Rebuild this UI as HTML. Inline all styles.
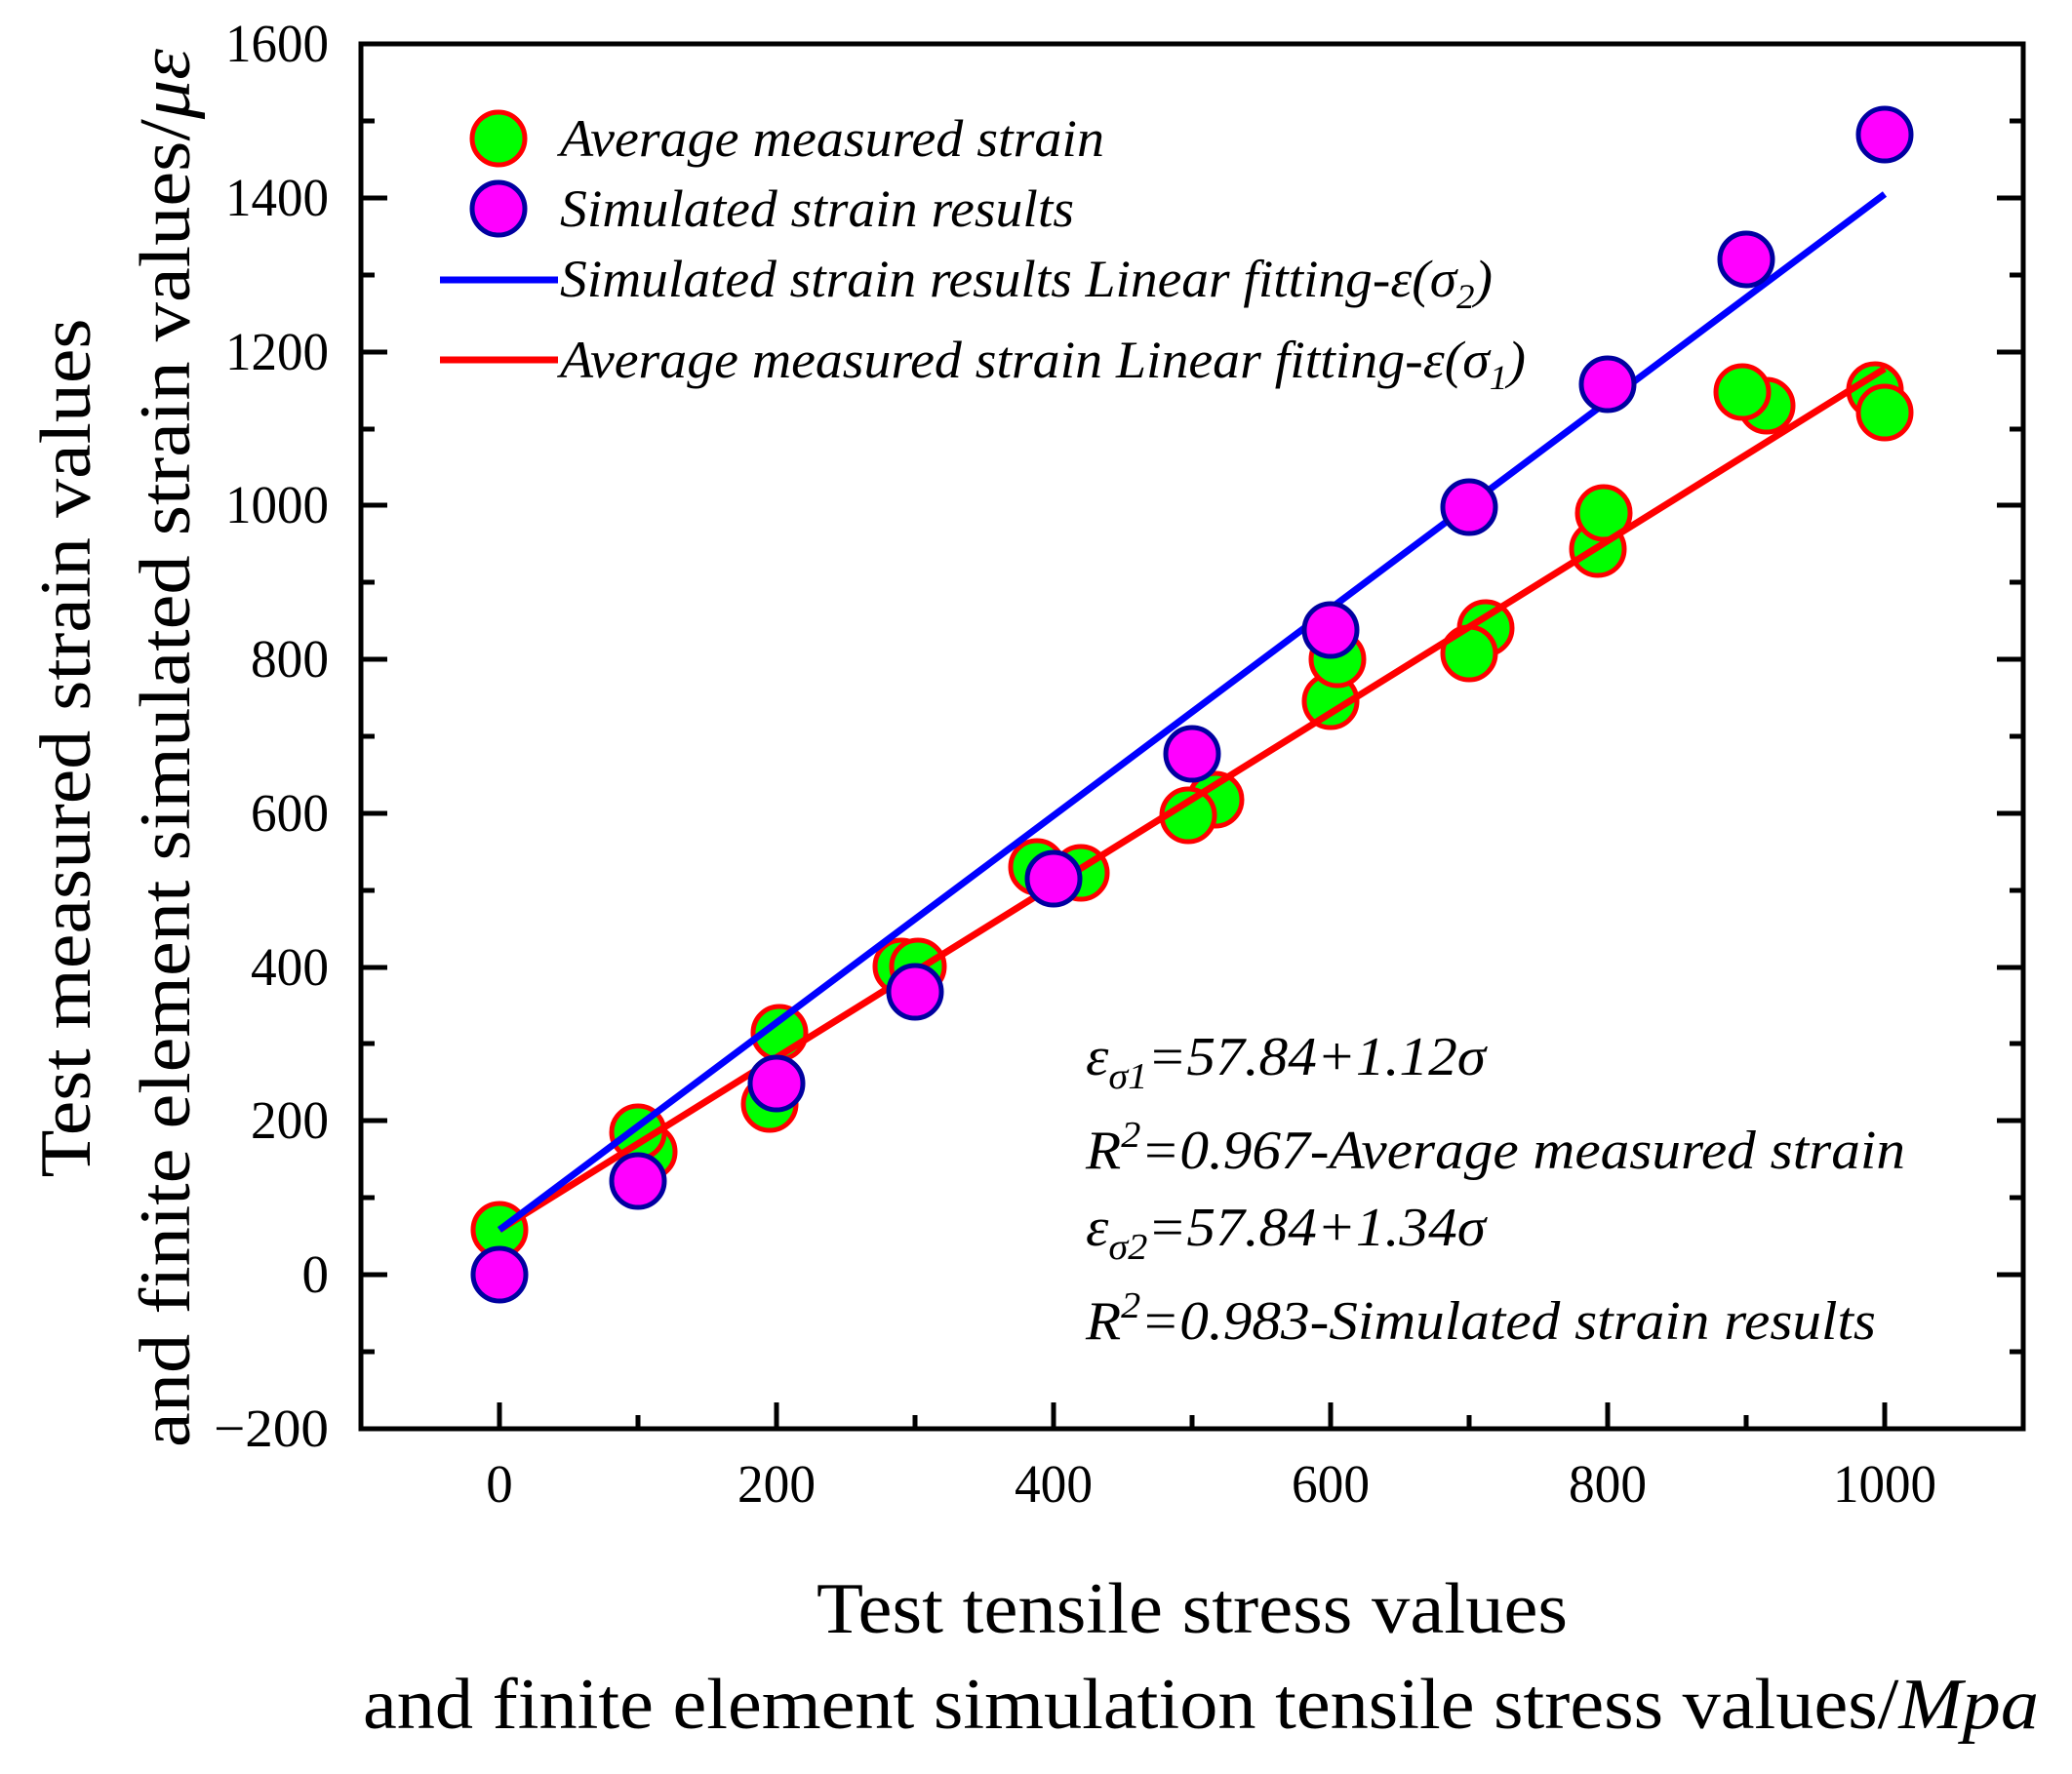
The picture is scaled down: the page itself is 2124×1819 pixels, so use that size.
<!DOCTYPE html>
<html><head><meta charset="utf-8"><style>html,body{margin:0;padding:0;background:#fff;overflow:hidden;width:2124px;height:1819px}svg{display:block}</style></head>
<body>
<svg width="2124" height="1819" viewBox="0 0 2124 1819" xmlns="http://www.w3.org/2000/svg" font-family="'Liberation Serif', 'Times New Roman', serif">
<rect width="2124" height="1819" fill="#fff"/>
<g stroke="#000" stroke-width="5">
<line x1="370" y1="124" x2="384" y2="124"/>
<line x1="370" y1="203" x2="397" y2="203"/>
<line x1="370" y1="282" x2="384" y2="282"/>
<line x1="370" y1="361" x2="397" y2="361"/>
<line x1="370" y1="440" x2="384" y2="440"/>
<line x1="370" y1="518" x2="397" y2="518"/>
<line x1="370" y1="597" x2="384" y2="597"/>
<line x1="370" y1="676" x2="397" y2="676"/>
<line x1="370" y1="755" x2="384" y2="755"/>
<line x1="370" y1="834" x2="397" y2="834"/>
<line x1="370" y1="913" x2="384" y2="913"/>
<line x1="370" y1="992" x2="397" y2="992"/>
<line x1="370" y1="1070" x2="384" y2="1070"/>
<line x1="370" y1="1149" x2="397" y2="1149"/>
<line x1="370" y1="1228" x2="384" y2="1228"/>
<line x1="370" y1="1307" x2="397" y2="1307"/>
<line x1="370" y1="1386" x2="384" y2="1386"/>
<line x1="2074" y1="124" x2="2060" y2="124"/>
<line x1="2074" y1="203" x2="2047" y2="203"/>
<line x1="2074" y1="282" x2="2060" y2="282"/>
<line x1="2074" y1="361" x2="2047" y2="361"/>
<line x1="2074" y1="440" x2="2060" y2="440"/>
<line x1="2074" y1="518" x2="2047" y2="518"/>
<line x1="2074" y1="597" x2="2060" y2="597"/>
<line x1="2074" y1="676" x2="2047" y2="676"/>
<line x1="2074" y1="755" x2="2060" y2="755"/>
<line x1="2074" y1="834" x2="2047" y2="834"/>
<line x1="2074" y1="913" x2="2060" y2="913"/>
<line x1="2074" y1="992" x2="2047" y2="992"/>
<line x1="2074" y1="1070" x2="2060" y2="1070"/>
<line x1="2074" y1="1149" x2="2047" y2="1149"/>
<line x1="2074" y1="1228" x2="2060" y2="1228"/>
<line x1="2074" y1="1307" x2="2047" y2="1307"/>
<line x1="2074" y1="1386" x2="2060" y2="1386"/>
<line x1="512" y1="1465" x2="512" y2="1438"/>
<line x1="654" y1="1465" x2="654" y2="1451"/>
<line x1="796" y1="1465" x2="796" y2="1438"/>
<line x1="938" y1="1465" x2="938" y2="1451"/>
<line x1="1080" y1="1465" x2="1080" y2="1438"/>
<line x1="1222" y1="1465" x2="1222" y2="1451"/>
<line x1="1364" y1="1465" x2="1364" y2="1438"/>
<line x1="1506" y1="1465" x2="1506" y2="1451"/>
<line x1="1648" y1="1465" x2="1648" y2="1438"/>
<line x1="1790" y1="1465" x2="1790" y2="1451"/>
<line x1="1932" y1="1465" x2="1932" y2="1438"/>
</g>
<rect x="370" y="45" width="1704" height="1420" fill="none" stroke="#000" stroke-width="5"/>
<g font-size="55" text-anchor="end" fill="#000">
<text x="337" y="63" textLength="106" lengthAdjust="spacingAndGlyphs">1600</text>
<text x="337" y="221" textLength="106" lengthAdjust="spacingAndGlyphs">1400</text>
<text x="337" y="379" textLength="106" lengthAdjust="spacingAndGlyphs">1200</text>
<text x="337" y="536" textLength="106" lengthAdjust="spacingAndGlyphs">1000</text>
<text x="337" y="694" textLength="80" lengthAdjust="spacingAndGlyphs">800</text>
<text x="337" y="852" textLength="80" lengthAdjust="spacingAndGlyphs">600</text>
<text x="337" y="1010" textLength="80" lengthAdjust="spacingAndGlyphs">400</text>
<text x="337" y="1167" textLength="80" lengthAdjust="spacingAndGlyphs">200</text>
<text x="337" y="1325">0</text>
<text x="337" y="1483" textLength="118" lengthAdjust="spacingAndGlyphs">−200</text>
</g>
<g font-size="55" text-anchor="middle" fill="#000">
<text x="512" y="1540">0</text>
<text x="796" y="1540" textLength="80" lengthAdjust="spacingAndGlyphs">200</text>
<text x="1080" y="1540" textLength="80" lengthAdjust="spacingAndGlyphs">400</text>
<text x="1364" y="1540" textLength="80" lengthAdjust="spacingAndGlyphs">600</text>
<text x="1648" y="1540" textLength="80" lengthAdjust="spacingAndGlyphs">800</text>
<text x="1932" y="1540" textLength="106" lengthAdjust="spacingAndGlyphs">1000</text>
</g>
<g font-size="74" fill="#000">
<text transform="translate(92,767) rotate(-90)" text-anchor="middle" textLength="881" lengthAdjust="spacingAndGlyphs">Test measured strain values</text>
<text transform="translate(194,767) rotate(-90)" text-anchor="middle" textLength="1434" lengthAdjust="spacingAndGlyphs">and finite element simulated strain values/<tspan font-style="italic">με</tspan></text>
<text x="1222" y="1674" text-anchor="middle" textLength="770" lengthAdjust="spacingAndGlyphs">Test tensile stress values</text>
<text x="372" y="1772" textLength="1718" lengthAdjust="spacingAndGlyphs">and finite element simulation tensile stress values/<tspan font-style="italic">Mpa</tspan></text>
</g>
<g fill="#00ff00" stroke="#ff0000" stroke-width="5">
<circle cx="512" cy="1261" r="27"/>
<circle cx="665" cy="1181" r="27"/>
<circle cx="654" cy="1161" r="27"/>
<circle cx="789" cy="1132" r="27"/>
<circle cx="799" cy="1059" r="27"/>
<circle cx="924" cy="991" r="27"/>
<circle cx="941" cy="991" r="27"/>
<circle cx="1063" cy="889" r="27"/>
<circle cx="1108" cy="895" r="27"/>
<circle cx="1246" cy="820" r="27"/>
<circle cx="1218" cy="836" r="27"/>
<circle cx="1364" cy="719" r="27"/>
<circle cx="1371" cy="676" r="27"/>
<circle cx="1523" cy="644" r="27"/>
<circle cx="1506" cy="670" r="27"/>
<circle cx="1638" cy="563" r="27"/>
<circle cx="1644" cy="526" r="27"/>
<circle cx="1811" cy="416" r="27"/>
<circle cx="1786" cy="402" r="27"/>
<circle cx="1922" cy="400" r="27"/>
<circle cx="1932" cy="423" r="27"/>
</g>
<line x1="512" y1="1261" x2="1932" y2="378" stroke="#ff0000" stroke-width="7"/>
<line x1="512" y1="1261" x2="1932" y2="199" stroke="#0000ff" stroke-width="7"/>
<g fill="#ff00ff" stroke="#0000a0" stroke-width="5">
<circle cx="512" cy="1307" r="27"/>
<circle cx="654" cy="1211" r="27"/>
<circle cx="796" cy="1111" r="27"/>
<circle cx="938" cy="1017" r="27"/>
<circle cx="1080" cy="901" r="27"/>
<circle cx="1222" cy="773" r="27"/>
<circle cx="1364" cy="646" r="27"/>
<circle cx="1506" cy="520" r="27"/>
<circle cx="1648" cy="394" r="27"/>
<circle cx="1790" cy="266" r="27"/>
<circle cx="1932" cy="138" r="27"/>
</g>
<circle cx="511" cy="142" r="27" fill="#00ff00" stroke="#ff0000" stroke-width="5"/>
<circle cx="511" cy="214" r="27" fill="#ff00ff" stroke="#0000a0" stroke-width="5"/>
<line x1="451" y1="287" x2="572" y2="287" stroke="#0000ff" stroke-width="7"/>
<line x1="451" y1="369" x2="572" y2="369" stroke="#ff0000" stroke-width="7"/>
<g font-size="54" font-style="italic" fill="#000">
<text x="574" y="160" textLength="558" lengthAdjust="spacingAndGlyphs">Average measured strain</text>
<text x="574" y="232" textLength="527" lengthAdjust="spacingAndGlyphs">Simulated strain results</text>
<text x="574" y="304" textLength="956" lengthAdjust="spacingAndGlyphs">Simulated strain results Linear fitting-ε(σ<tspan font-size="36" dy="12">2</tspan><tspan dy="-12">)</tspan></text>
<text x="574" y="387" textLength="990" lengthAdjust="spacingAndGlyphs">Average measured strain Linear fitting-ε(σ<tspan font-size="36" dy="12">1</tspan><tspan dy="-12">)</tspan></text>
</g>
<g font-size="56" font-style="italic" fill="#000">
<text x="1113" y="1102" textLength="410" lengthAdjust="spacingAndGlyphs">ε<tspan font-size="38" dy="14">σ1</tspan><tspan dy="-14">=57.84+1.12σ</tspan></text>
<text x="1113" y="1198" textLength="840" lengthAdjust="spacingAndGlyphs">R<tspan font-size="38" dy="-22">2</tspan><tspan dy="22">=0.967-Average measured strain</tspan></text>
<text x="1113" y="1277" textLength="410" lengthAdjust="spacingAndGlyphs">ε<tspan font-size="38" dy="14">σ2</tspan><tspan dy="-14">=57.84+1.34σ</tspan></text>
<text x="1113" y="1373" textLength="810" lengthAdjust="spacingAndGlyphs">R<tspan font-size="38" dy="-22">2</tspan><tspan dy="22">=0.983-Simulated strain results</tspan></text>
</g>
</svg>
</body></html>
